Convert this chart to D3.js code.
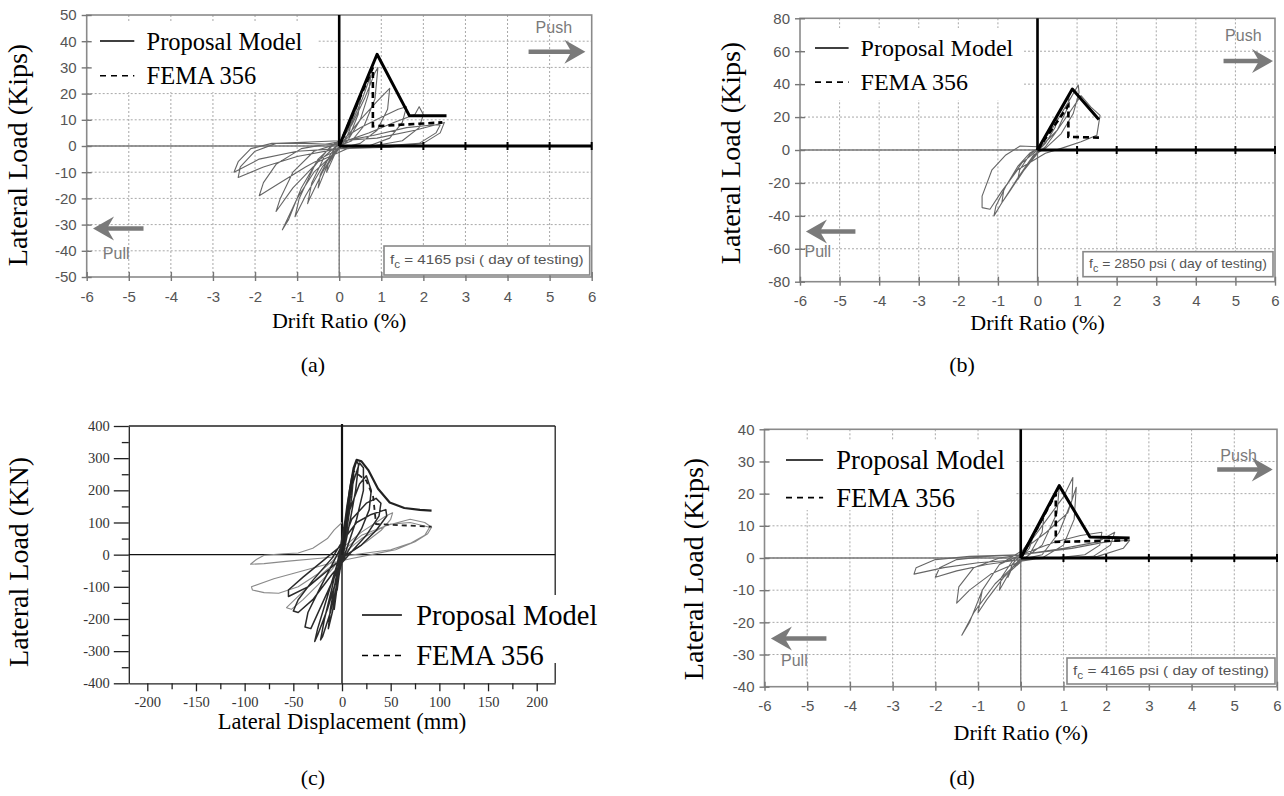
<!DOCTYPE html>
<html><head><meta charset="utf-8">
<script src="https://cdn.jsdelivr.net/npm/d3@7/dist/d3.min.js"></script>
<style>body{margin:0;background:#fff}svg{display:block}</style>
</head><body>
<svg id="chart" width="1284" height="796"></svg>
<script>
// ---------------- DATA ----------------
const driftTicks = [-6,-5,-4,-3,-2,-1,0,1,2,3,4,5,6];
const loadTicksA = [-50,-40,-30,-20,-10,0,10,20,30,40,50];
const loadTicksB = [-80,-60,-40,-20,0,20,40,60,80];
const loadTicksD = [-40,-30,-20,-10,0,10,20,30,40];
const dispTicksC = [-200,-150,-100,-50,0,50,100,150,200];
const loadTicksC = [-400,-300,-200,-100,0,100,200,300,400];
const legendLabels = ["Proposal Model","FEMA 356"];
const fcLabels = ["4165","2850","4165"];

// Panel (a): drift (%) vs load (kips)
const hystA = [[0,0],[0.2,6],[0.3,10],[0.25,6],[0.1,1],[-0.1,-3],[-0.3,-10],[-0.25,-6],[-0.1,-1],
 [0.1,3],[0.3,10],[0.5,18],[0.45,12],[0.25,4],[0,0],[-0.3,-8],[-0.5,-16],[-0.45,-11],[-0.2,-3],[0,1],
 [0.3,9],[0.55,18],[0.75,27],[0.7,20],[0.5,10],[0.2,2],[-0.1,-2],[-0.4,-10],[-0.7,-20],[-0.75,-22],[-0.65,-14],[-0.35,-4],[0,1],
 [0.3,8],[0.6,18],[0.85,28],[0.92,30],[0.85,18],[0.6,8],[0.3,2],[0,0],[-0.4,-8],[-0.8,-19],[-1.05,-27],[-0.95,-20],[-0.6,-8],[-0.2,0],[0.1,2],
 [0.5,10],[0.9,17],[1.2,22],[1.15,14],[0.9,6],[0.5,1],[0,-1],[-0.6,-10],[-1.0,-20],[-1.35,-32],[-1.2,-28],[-0.9,-16],[-0.5,-5],[-0.1,1],
 [0.5,7],[1.0,11],[1.4,14],[1.6,15],[1.5,9],[1.2,3],[0.7,0],[0.2,-1],[-0.5,-6],[-1.1,-16],[-1.5,-25],[-1.4,-20],[-1.1,-10],[-0.6,-2],[0,1],
 [0.7,5],[1.3,9],[1.8,12],[1.9,15],[2.0,12],[1.9,7],[1.5,2],[0.8,0],[0,-1],[-0.8,-8],[-1.5,-15],[-1.9,-19],[-1.8,-14],[-1.5,-7],[-0.9,-1],[-0.2,1],
 [0.8,4],[1.6,7],[2.2,8],[2.4,8],[2.3,5],[1.9,1],[1.0,0],[0,-1],[-1.0,-4],[-1.8,-8],[-2.4,-12],[-2.35,-8],[-2.0,-2],[-1.5,1],[-0.7,1.5],[0,2],
 [0.9,3],[1.8,6],[2.5,9],[2.4,5],[2.0,1],[1.2,-0.5],[0,-1],[-1.0,-2],[-1.9,-5],[-2.5,-10],[-2.4,-6],[-2.1,-1],[-1.6,1],[-0.8,1],[0,0.5]];
const modelA = [[0,0],[0.9,35],[1.67,11.5],[2.55,11.5]];
const femaA  = [[0,0],[0.8,30],[0.8,7.5],[2.45,9]];

// Panel (b)
const hystB = [[0,0],[0.25,10],[0.5,20],[0.45,14],[0.2,4],[0,-1],[-0.25,-9],[-0.5,-18],[-0.45,-12],[-0.2,-3],[0,1],
 [0.3,12],[0.6,24],[0.8,33],[0.75,25],[0.5,12],[0.2,2],[0,-2],[-0.4,-14],[-0.7,-25],[-0.9,-32],[-0.85,-24],[-0.5,-10],[-0.2,-2],[0,1],
 [0.4,14],[0.8,30],[1.03,39.5],[1.05,35],[0.9,22],[0.6,10],[0.2,1],[-0.1,-3],[-0.5,-17],[-0.9,-32],[-1.1,-40],[-1.05,-34],[-0.8,-22],[-0.4,-8],[0,0],
 [0.5,12],[0.9,26],[1.1,33],[1.35,26],[1.58,21],[1.5,9],[1.1,5],[0.6,1],[0.2,-2],[-0.5,-12],[-0.9,-25],[-1.2,-36],[-1.4,-35],[-1.4,-28],[-1.15,-12],[-0.8,-3],[-0.44,2.4],[0,2]];
const modelB = [[0,0],[0.88,37],[1.55,18.5]];
const femaB  = [[0,0],[0.78,27],[0.78,8],[1.56,7.5]];

// Panel (c): displacement (mm) vs load (kN)
const hystC = [[0,0],[3,70],[5,120],[4,80],[1,10],[-2,-40],[-5,-110],[-4,-70],[-1,-10],[1,30],
 [5,130],[8,190],[7,140],[3,50],[-1,-20],[-5,-100],[-8,-170],[-7,-120],[-3,-40],[0,20],
 [5,140],[10,220],[12,250],[10,180],[5,80],[0,-10],[-5,-100],[-10,-180],[-14,-230],[-12,-170],[-6,-70],[-1,10],
 [5,150],[10,240],[15,292],[17,280],[14,200],[8,100],[2,10],[-5,-90],[-12,-180],[-20,-255],[-22,-265],[-18,-200],[-10,-100],[-3,0],
 [5,140],[12,230],[18,285],[22,270],[22,200],[15,110],[5,20],[-5,-70],[-15,-170],[-25,-250],[-28,-270],[-25,-230],[-15,-130],[-5,-30],[0,20],
 [8,140],[18,220],[25,245],[30,200],[28,140],[20,80],[8,20],[-5,-50],[-20,-150],[-32,-230],[-38,-225],[-35,-180],[-22,-100],[-10,-30],[0,30],
 [10,110],[25,160],[35,175],[40,160],[38,120],[25,60],[10,10],[-10,-60],[-30,-140],[-45,-180],[-50,-175],[-45,-140],[-30,-80],[-10,-10],[0,40],
 [15,100],[30,125],[45,140],[46,120],[35,75],[20,30],[5,0],[-15,-50],[-35,-100],[-55,-130],[-55,-110],[-40,-70],[-20,-20],[0,30]];
const hystCgray = [[0,20],[20,70],[45,120],[52,130],[50,110],[40,75],[25,40],[5,0],[-15,-45],[-35,-100],[-52,-150],[-57,-165],[-52,-170],[-40,-140],[-25,-95],[-10,-45],[0,0],
 [20,50],[45,90],[70,110],[85,100],[92,85],[88,65],[75,40],[55,15],[30,0],[10,-12],[-10,-25],[-40,-50],[-70,-75],[-93,-100],[-92,-110],[-80,-118],[-65,-120],[-45,-100],[-25,-60],[-10,-20],[0,10],
 [20,60],[50,95],[70,100],[90,85],[85,60],[70,35],[50,15],[25,5],[0,-5],[-25,-12],[-55,-20],[-80,-28],[-94,-30],[-88,-15],[-80,-2],[-60,3],[-45,5],[-30,20],[-15,50],[-8,77],[0,100]];
const modelC = [[0,0],[8,200],[12,270],[15,295],[20,290],[27,263],[37,205],[49,162],[64,145],[80,139],[92,137]];
const femaC  = [[0,0],[12,260],[25,230],[32,180],[35,95],[92,87]];

// Panel (d)
const hystD = [[0,0],[0.2,4],[0.3,7],[0.2,3],[0,0],[-0.2,-3],[-0.3,-6],[-0.2,-2],[0,1],
 [0.3,7],[0.55,14],[0.5,8],[0.2,1],[-0.2,-3],[-0.5,-10],[-0.45,-6],[-0.2,-1],[0,1.5],
 [0.4,9],[0.7,17],[0.9,22],[0.85,14],[0.5,4],[0.1,0],[-0.4,-6],[-0.8,-13],[-1.0,-17],[-0.9,-10],[-0.5,-2],[0,1],
 [0.5,10],[1.0,19],[1.22,25],[1.2,18],[0.9,8],[0.5,1],[0,-0.5],[-0.6,-8],[-1.1,-17],[-1.38,-24],[-1.2,-20],[-0.9,-10],[-0.5,-2],[0,2],
 [0.6,8],[1.1,14],[1.3,22],[1.25,12],[1.0,4],[0.5,0],[0,-1],[-0.7,-5],[-1.2,-10],[-1.5,-14],[-1.45,-9],[-1.1,-3],[-0.5,0],[0,1],
 [0.8,5],[1.4,7],[1.9,8],[1.85,4],[1.5,1],[0.8,0],[0,-0.5],[-0.8,-2],[-1.5,-4],[-2.0,-6],[-1.9,-3],[-1.5,-0.5],[-0.8,0.5],[0,1],
 [1.0,3],[1.8,5],[2.2,8],[2.1,4],[1.7,0.5],[0.8,0],[0,-0.5],[-1.0,-1.5],[-1.8,-3],[-2.5,-5],[-2.45,-3],[-2.0,-0.5],[-1.2,0.5],[0,1],
 [1.2,3],[2.0,5],[2.55,5.5],[2.4,3],[1.8,0.5],[0.9,0],[0,0]];
const modelD = [[0,0],[0.9,22.5],[1.62,6.5],[2.55,6.2]];
const femaD  = [[0,0],[0.82,20],[0.82,5],[2.5,5.5]];

// ---------------- DRAWING ----------------
const svg = d3.select("#chart");
const SERIF = "'Liberation Serif','Times New Roman',serif";
const SANS = "'Liberation Sans',Arial,sans-serif";
const fmt = d => String(d);
const GRAY = "#7a7a7a";

function arrow(g, xTip, xTail, y){
  const dir = xTip > xTail ? 1 : -1;
  g.append("line").attr("x1",xTail).attr("x2",xTip - dir*10).attr("y1",y).attr("y2",y)
    .attr("stroke",GRAY).attr("stroke-width",4.5);
  g.append("path").attr("d",`M${xTip},${y} L${xTip-dir*21},${y-12} L${xTip-dir*14},${y} L${xTip-dir*21},${y+12} Z`)
    .attr("fill",GRAY);
}

function legend(g, lx, ty, size, rect){
  g.append("rect").attr("x",rect[0]).attr("y",rect[1]).attr("width",rect[2]).attr("height",rect[3]).attr("fill","#fff");
  legendLabels.forEach((t,i)=>{
    const yy = ty + i*size*1.42;
    g.append("line").attr("x1",lx).attr("x2",lx+size*1.4).attr("y1",yy).attr("y2",yy)
      .attr("stroke","#000").attr("stroke-width",1.6).attr("stroke-dasharray", i ? "6,5" : null);
    g.append("text").attr("x",lx+size*1.9).attr("y",yy).attr("dy","0.35em")
      .attr("font-family",SERIF).attr("font-size",size).attr("fill","#000").text(t);
  });
}

function kipsPanel(c){
  const x = d3.scaleLinear().domain([-6,6]).range([c.left,c.right]);
  const y = d3.scaleLinear().domain(c.ydom).range([c.bottom,c.top]);
  const g = svg.append("g");
  const inner = driftTicks.filter(d=>d>-6 && d<6);
  g.selectAll(null).data(inner).join("line")
    .attr("x1",d=>x(d)).attr("x2",d=>x(d)).attr("y1",c.top).attr("y2",c.bottom)
    .attr("stroke","#a8a8a8").attr("stroke-width",1).attr("stroke-dasharray","2,2");
  g.selectAll(null).data(c.yTicks.filter(d=>d>c.ydom[0] && d<c.ydom[1])).join("line")
    .attr("x1",c.left).attr("x2",c.right).attr("y1",d=>y(d)).attr("y2",d=>y(d))
    .attr("stroke","#a8a8a8").attr("stroke-width",1).attr("stroke-dasharray","2,2");
  legend(g, c.legX, c.legY, c.legSize, c.legRect);
  g.append("rect").attr("x",c.left).attr("y",c.top).attr("width",c.right-c.left).attr("height",c.bottom-c.top)
    .attr("fill","none").attr("stroke","#8a8a8a").attr("stroke-width",1.6);
  const ax = g.append("g").attr("transform",`translate(${c.left},0)`)
    .call(d3.axisLeft(y).tickValues(c.yTicks).tickFormat(fmt).tickSizeInner(5).tickSizeOuter(0).tickPadding(5));
  ax.select(".domain").remove();
  g.append("g").attr("transform",`translate(${c.left},0)`)
    .call(d3.axisLeft(y).tickValues(c.yTicks).tickFormat("").tickSizeInner(-5).tickSizeOuter(0)).select(".domain").remove();
  const bx = g.append("g").attr("transform",`translate(0,${c.bottom})`)
    .call(d3.axisBottom(x).tickValues(driftTicks).tickFormat(fmt).tickSizeInner(-5).tickSizeOuter(0).tickPadding(14));
  bx.select(".domain").remove();
  g.append("g").attr("transform",`translate(0,${c.bottom})`)
    .call(d3.axisBottom(x).tickValues(driftTicks).tickFormat("").tickSizeInner(4).tickSizeOuter(0)).select(".domain").remove();
  g.selectAll(".tick line").attr("stroke","#777").attr("stroke-width",1.4);
  g.selectAll(".tick text").attr("font-family",SANS).attr("font-size",15).attr("fill","#555");
  g.append("line").attr("x1",c.left).attr("x2",c.right).attr("y1",y(0)).attr("y2",y(0)).attr("stroke","#777").attr("stroke-width",1.3);
  g.append("line").attr("x1",x(0)).attr("x2",x(0)).attr("y1",c.top).attr("y2",c.bottom).attr("stroke","#777").attr("stroke-width",1.3);
  const line = d3.line().x(d=>x(d[0])).y(d=>y(d[1]));
  g.append("path").datum(c.hyst).attr("d",line).attr("fill","none").attr("stroke","#666").attr("stroke-width",1.1).attr("stroke-linejoin","round");
  g.append("line").attr("x1",x(0)).attr("x2",x(0)).attr("y1",c.top).attr("y2",y(0)).attr("stroke","#000").attr("stroke-width",2.6);
  g.append("line").attr("x1",x(0)).attr("x2",c.right).attr("y1",y(0)).attr("y2",y(0)).attr("stroke","#000").attr("stroke-width",3);
  g.selectAll(null).data(driftTicks.filter(d=>d>0)).join("line")
    .attr("x1",d=>x(d)).attr("x2",d=>x(d)).attr("y1",y(0)-4).attr("y2",y(0)+4).attr("stroke","#000").attr("stroke-width",2);
  g.append("path").datum(c.fema).attr("d",line).attr("fill","none").attr("stroke","#000").attr("stroke-width",2.6).attr("stroke-dasharray","6,4");
  g.append("path").datum(c.model).attr("d",line).attr("fill","none").attr("stroke","#000").attr("stroke-width",3).attr("stroke-linejoin","round");
  g.append("text").attr("x",x(c.pushText[0])).attr("y",y(c.pushText[1])).attr("font-family",SANS).attr("font-size",16).attr("fill",GRAY).attr("text-anchor","middle").text("Push");
  arrow(g, x(c.pushArrow[1]), x(c.pushArrow[0]), y(c.pushArrow[2]));
  g.append("text").attr("x",x(c.pullText[0])).attr("y",y(c.pullText[1])).attr("font-family",SANS).attr("font-size",16).attr("fill",GRAY).attr("text-anchor","middle").text("Pull");
  arrow(g, x(c.pullArrow[0]), x(c.pullArrow[1]), y(c.pullArrow[2]));
  const bw = c.right - c.fcBox[0] - 2;
  g.append("rect").attr("x",c.fcBox[0]).attr("y",c.fcBox[1]).attr("width",bw).attr("height",c.fcBox[2])
    .attr("fill","#fff").attr("stroke","#888").attr("stroke-width",1.6);
  const t = g.append("text").attr("x",c.fcBox[0]+6).attr("y",c.fcBox[1]+c.fcBox[2]/2).attr("dy","0.3em")
    .attr("font-family",SANS).attr("font-size",13).attr("fill","#555")
    .attr("textLength",bw-12).attr("lengthAdjust","spacingAndGlyphs");
  t.append("tspan").text("f");
  t.append("tspan").attr("dy",4).attr("font-size",10).text("c");
  t.append("tspan").attr("dy",-4).text(` = ${c.fc} psi ( day of testing)`);
  svg.append("text").attr("transform",`translate(${c.ylabX},${c.ylabY}) rotate(-90)`).attr("text-anchor","middle")
    .attr("font-family",SERIF).attr("font-size",c.ylabSize).text("Lateral Load (Kips)");
  svg.append("text").attr("x",(c.left+c.right)/2).attr("y",c.xlabY).attr("text-anchor","middle")
    .attr("font-family",SERIF).attr("font-size",22).text("Drift Ratio (%)");
  svg.append("text").attr("x",c.capX).attr("y",c.capY).attr("text-anchor","middle")
    .attr("font-family",SERIF).attr("font-size",22).text(c.cap);
}

kipsPanel({left:86.7,right:591.7,top:15,bottom:277,ydom:[-50,50],yTicks:loadTicksA,
  hyst:hystA,model:modelA,fema:femaA,fc:fcLabels[0],
  legX:100,legY:41,legSize:24.5,legRect:[89,22,228,70],
  pushText:[5.1,43],pushArrow:[4.5,5.85,36],pullText:[-5.3,-43],pullArrow:[-5.85,-4.65,-31.5],
  fcBox:[384,246,29],ylabX:27,ylabY:155,ylabSize:28,xlabY:328,capX:313,capY:372,cap:"(a)"});
kipsPanel({left:800,right:1275,top:18.3,bottom:281.7,ydom:[-80,80],yTicks:loadTicksB,
  hyst:hystB,model:modelB,fema:femaB,fc:fcLabels[1],
  legX:815,legY:48,legSize:24,legRect:[802,28,221,72],
  pushText:[5.2,66],pushArrow:[4.7,5.95,54],pullText:[-5.55,-65],pullArrow:[-5.85,-4.6,-49.5],
  fcBox:[1083,251.7,25],ylabX:740,ylabY:153,ylabSize:28,xlabY:330,capX:962,capY:372,cap:"(b)"});
kipsPanel({left:764.5,right:1277,top:429.3,bottom:686.7,ydom:[-40,40],yTicks:loadTicksD,
  hyst:hystD,model:modelD,fema:femaD,fc:fcLabels[2],
  legX:786,legY:460,legSize:26.5,legRect:[766,440,250,70],
  pushText:[5.1,30],pushArrow:[4.6,5.9,27.5],pullText:[-5.3,-33.5],pullArrow:[-5.85,-4.55,-25],
  fcBox:[1067,658,26],ylabX:703,ylabY:569,ylabSize:28,xlabY:740,capX:962,capY:785,cap:"(d)"});

// Panel (c)
(function(){
  const left=128.8,right=555.2,top=426,bottom=683.3;
  const x = d3.scaleLinear().domain([-219,219]).range([left,right]);
  const y = d3.scaleLinear().domain([-400,400]).range([bottom,top]);
  const g = svg.append("g");
  const line = d3.line().x(d=>x(d[0])).y(d=>y(d[1]));
  g.append("line").attr("x1",left).attr("x2",right).attr("y1",top).attr("y2",top).attr("stroke","#222").attr("stroke-width",1.3);
  g.append("line").attr("x1",right).attr("x2",right).attr("y1",top).attr("y2",bottom).attr("stroke","#222").attr("stroke-width",1.3);
  const la = g.append("g").attr("transform",`translate(${left},0)`)
    .call(d3.axisLeft(y).tickValues(loadTicksC).tickFormat(fmt).tickSizeInner(15).tickSizeOuter(0).tickPadding(4));
  la.select(".domain").attr("stroke","#222").attr("stroke-width",1.3);
  const minorY = d3.range(-350,400,100);
  g.append("g").attr("transform",`translate(${left},0)`)
    .call(d3.axisLeft(y).tickValues(minorY).tickFormat("").tickSizeInner(7).tickSizeOuter(0)).select(".domain").remove();
  const ba = g.append("g").attr("transform",`translate(0,${bottom})`)
    .call(d3.axisBottom(x).tickValues(dispTicksC).tickFormat(fmt).tickSizeInner(8).tickSizeOuter(0).tickPadding(5));
  ba.select(".domain").attr("stroke","#222").attr("stroke-width",1.3);
  const minorX = d3.range(-175,200,50);
  g.append("g").attr("transform",`translate(0,${bottom})`)
    .call(d3.axisBottom(x).tickValues(minorX).tickFormat("").tickSizeInner(6).tickSizeOuter(0)).select(".domain").remove();
  g.selectAll(".tick line").attr("stroke","#222").attr("stroke-width",1.3);
  g.selectAll(".tick text").attr("font-family",SERIF).attr("font-size",14.5).attr("fill","#333");
  g.append("line").attr("x1",left).attr("x2",right).attr("y1",y(0)).attr("y2",y(0)).attr("stroke","#111").attr("stroke-width",1.4);
  g.append("line").attr("x1",x(0)).attr("x2",x(0)).attr("y1",top-2).attr("y2",bottom).attr("stroke","#111").attr("stroke-width",1.4);
  g.append("line").attr("x1",x(0)).attr("x2",x(0)).attr("y1",top-2).attr("y2",y(0)).attr("stroke","#111").attr("stroke-width",2.2);
  g.append("path").datum(hystCgray).attr("d",line).attr("fill","none").attr("stroke","#8a8a8a").attr("stroke-width",1.1).attr("stroke-linejoin","round");
  g.append("path").datum(hystC).attr("d",line).attr("fill","none").attr("stroke","#2a2a2a").attr("stroke-width",1.5).attr("stroke-linejoin","round");
  g.append("path").datum(femaC).attr("d",line).attr("fill","none").attr("stroke","#222").attr("stroke-width",1.8).attr("stroke-dasharray","5,4");
  g.append("path").datum(modelC).attr("d",line).attr("fill","none").attr("stroke","#222").attr("stroke-width",2.2).attr("stroke-linejoin","round");
  legend(g, 362, 615, 28.5, [354,595,262,68]);
  svg.append("text").attr("transform",`translate(28,562) rotate(-90)`).attr("text-anchor","middle")
    .attr("font-family",SERIF).attr("font-size",28).text("Lateral Load (KN)");
  svg.append("text").attr("x",x(0)).attr("y",729).attr("text-anchor","middle")
    .attr("font-family",SERIF).attr("font-size",22.5).text("Lateral Displacement (mm)");
  svg.append("text").attr("x",313).attr("y",785).attr("text-anchor","middle")
    .attr("font-family",SERIF).attr("font-size",22).text("(c)");
})();
</script>
</body></html>
